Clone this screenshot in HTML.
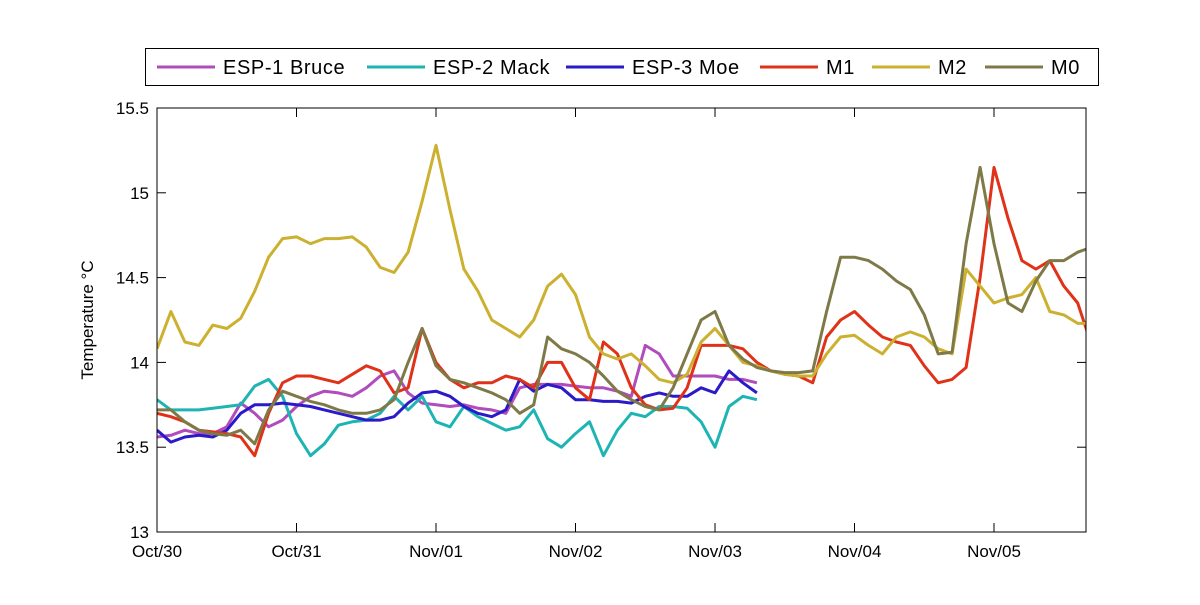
<!DOCTYPE html>
<html><head><meta charset="utf-8"><style>
body{margin:0;background:#fff;}
svg text{font-family:"Liberation Sans",Arial,sans-serif;}
</style></head><body>
<svg id="chart" width="1200" height="600" xmlns="http://www.w3.org/2000/svg"></svg>
<script>
const seriesNames=["ESP-1 Bruce","ESP-2 Mack","ESP-3 Moe","M1","M2","M0"];
const seriesColors=["#b04cbc","#1eb4b4","#2a1ac8","#e03218","#ccb030","#7e7a48"];
const timeStep=0.1;
const yTicks=[13,13.5,14,14.5,15,15.5];
const yTickLabels=["13","13.5","14","14.5","15","15.5"];
const xTickLabels=["Oct/30","Oct/31","Nov/01","Nov/02","Nov/03","Nov/04","Nov/05"];
const bruce=[13.56,13.57,13.6,13.58,13.58,13.62,13.76,13.7,13.62,13.66,13.74,13.8,13.83,13.82,13.8,13.85,13.92,13.95,13.82,13.76,13.75,13.74,13.75,13.73,13.72,13.7,13.85,13.87,13.87,13.87,13.86,13.85,13.85,13.83,13.8,14.1,14.05,13.92,13.92,13.92,13.92,13.9,13.9,13.88];
const mack=[13.78,13.72,13.72,13.72,13.73,13.74,13.75,13.86,13.9,13.8,13.58,13.45,13.52,13.63,13.65,13.66,13.7,13.8,13.72,13.8,13.65,13.62,13.74,13.68,13.64,13.6,13.62,13.72,13.55,13.5,13.58,13.65,13.45,13.6,13.7,13.68,13.74,13.74,13.73,13.65,13.5,13.74,13.8,13.78];
const moe=[13.6,13.53,13.56,13.57,13.56,13.6,13.7,13.75,13.75,13.76,13.75,13.74,13.72,13.7,13.68,13.66,13.66,13.68,13.76,13.82,13.83,13.8,13.74,13.7,13.68,13.72,13.9,13.83,13.87,13.85,13.78,13.78,13.77,13.77,13.76,13.8,13.82,13.8,13.8,13.85,13.82,13.95,13.88,13.82];
const m1=[13.7,13.68,13.65,13.6,13.59,13.58,13.56,13.45,13.7,13.88,13.92,13.92,13.9,13.88,13.93,13.98,13.95,13.82,13.85,14.2,14.0,13.9,13.85,13.88,13.88,13.92,13.9,13.85,14.0,14.0,13.85,13.78,14.12,14.05,13.85,13.75,13.72,13.73,13.85,14.1,14.1,14.1,14.08,14.0,13.95,13.93,13.92,13.88,14.15,14.25,14.3,14.22,14.15,14.12,14.1,13.98,13.88,13.9,13.97,14.5,15.15,14.85,14.6,14.55,14.6,14.45,14.35,14.1];
const m2=[14.08,14.3,14.12,14.1,14.22,14.2,14.26,14.42,14.62,14.73,14.74,14.7,14.73,14.73,14.74,14.68,14.56,14.53,14.65,14.95,15.28,14.9,14.55,14.42,14.25,14.2,14.15,14.25,14.45,14.52,14.4,14.15,14.05,14.02,14.05,13.98,13.9,13.88,13.93,14.12,14.2,14.1,14.0,13.98,13.95,13.93,13.92,13.92,14.05,14.15,14.16,14.1,14.05,14.15,14.18,14.15,14.08,14.05,14.55,14.45,14.35,14.38,14.4,14.5,14.3,14.28,14.23,14.23];
const m0=[13.72,13.72,13.65,13.6,13.58,13.57,13.6,13.52,13.72,13.83,13.8,13.77,13.75,13.72,13.7,13.7,13.72,13.78,14.0,14.2,13.98,13.9,13.88,13.85,13.82,13.78,13.7,13.75,14.15,14.08,14.05,14.0,13.92,13.83,13.78,13.74,13.72,13.85,14.05,14.25,14.3,14.1,14.02,13.97,13.95,13.94,13.94,13.95,14.3,14.62,14.62,14.6,14.55,14.48,14.43,14.28,14.05,14.06,14.7,15.15,14.7,14.35,14.3,14.48,14.6,14.6,14.65,14.68];
const allSeries=[bruce,mack,moe,m1,m2,m0];

const NS="http://www.w3.org/2000/svg";
const svg=document.getElementById('chart');
const L=157,R=1086,T=108,B=532,xMax=(R-L)/139.5;
const xs=d=>L+d/xMax*(R-L);
const ys=v=>B-(v-13)/2.5*(B-T);
function mk(tag,attrs,parent){const e=document.createElementNS(NS,tag);for(const k in attrs)e.setAttribute(k,attrs[k]);(parent||svg).appendChild(e);return e;}
const defs=mk('defs',{});const cp=mk('clipPath',{id:'pc'},defs);mk('rect',{x:L,y:T,width:R-L,height:B-T},cp);
const g=mk('g',{'clip-path':'url(#pc)'});


allSeries.forEach((s,k)=>{
 const pts=s.map((v,i)=>xs(i*timeStep).toFixed(1)+','+ys(v).toFixed(1)).join(' ');
 const p=mk('polyline',{points:pts,fill:'none',stroke:seriesColors[k],'stroke-width':3,'stroke-linejoin':'round'},g);
 
 
});
const box=mk('rect',{x:L,y:T,width:R-L,height:B-T,fill:'none',stroke:'#000','stroke-width':1});


yTicks.forEach((v,i)=>{
 const y=ys(v);
 mk('line',{x1:L,x2:L+9,y1:y,y2:y,stroke:'#000'});
 mk('line',{x1:R,x2:R-9,y1:y,y2:y,stroke:'#000'});
 const t=mk('text',{x:L-8,y:y+6,'text-anchor':'end','font-size':17});
 t.textContent=yTickLabels[i];
 
 
});
xTickLabels.forEach((lab,i)=>{
 const x=xs(i);
 mk('line',{x1:x,x2:x,y1:B,y2:B-9,stroke:'#000'});
 mk('line',{x1:x,x2:x,y1:T,y2:T+9,stroke:'#000'});
 const t=mk('text',{x:x,y:557,'text-anchor':'middle','font-size':17});
 t.textContent=lab;
 
 
});
const yt=mk('text',{x:0,y:0,transform:'translate(93,320) rotate(-90)','text-anchor':'middle','font-size':17});
yt.textContent='Temperature °C';


const lg=mk('g',{});


mk('rect',{x:145.5,y:48.5,width:953,height:37,fill:'#fff',stroke:'#000'},lg);
const lx=[157,367,566,760,872,985];
seriesNames.forEach((n,k)=>{
 const e=mk('g',{},lg);
 
 
 mk('line',{x1:lx[k],x2:lx[k]+58,y1:67,y2:67,stroke:seriesColors[k],'stroke-width':3},e);
 const t=mk('text',{x:lx[k]+66,y:74,'font-size':20,'letter-spacing':0.6},e);
 t.textContent=n;
});
</script>
</body></html>
